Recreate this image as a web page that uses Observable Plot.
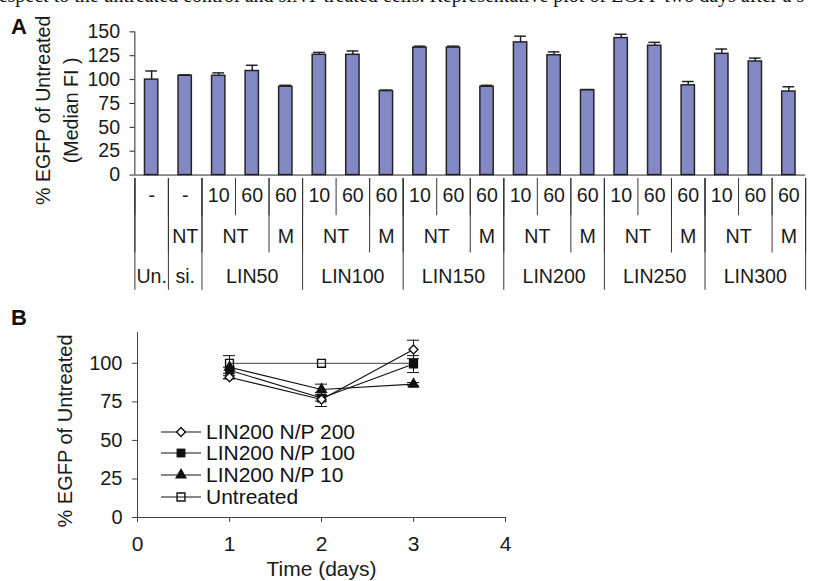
<!DOCTYPE html>
<html><head><meta charset="utf-8">
<script src="https://cdn.jsdelivr.net/npm/d3@7"></script>
<script src="https://cdn.jsdelivr.net/npm/@observablehq/plot@0.6"></script>
<style>
html,body{margin:0;padding:0;background:#fff;}
#wrap{position:relative;width:814px;height:581px;overflow:hidden;font-family:"Liberation Sans",Arial,sans-serif;color:#111;}
.letter{font-weight:bold;font-size:22px;line-height:1;}
.cut{font-family:"Liberation Serif","Times New Roman",serif;font-size:20px;white-space:nowrap;line-height:1;}
.leg{position:absolute;left:160px;height:22px;display:flex;align-items:center;font-size:21px;white-space:nowrap;}
.leg svg{margin-right:4px;}
svg text{font-family:"Liberation Sans",Arial,sans-serif;}
</style></head>
<body><div id="wrap"></div>
<script>
// ---------- Panel A data ----------
const row1Labels = ["-","-","10","60","60","10","60","60","10","60","60","10","60","60","10","60","60","10","60","60"];
const row2Labels = ["", "NT", "NT", "M", "NT", "M", "NT", "M", "NT", "M", "NT", "M", "NT", "M"];
const row2Spans  = [1, 1, 2, 1, 2, 1, 2, 1, 2, 1, 2, 1, 2, 1];
const groupLabels = ["Un.", "si.", "LIN50", "LIN100", "LIN150", "LIN200", "LIN250", "LIN300"];
const groupSpans  = [1, 1, 3, 3, 3, 3, 3, 3];
const medianFI = [100, 104, 104, 109, 92.5, 126, 126, 88, 133.5, 133.5, 92.5, 139, 125.5, 89, 143.5, 135.5, 94, 127, 119, 87.5];
const medianSD = [9, 1, 3, 6, 1.5, 2.5, 4, 1, 1.5, 1.5, 1.5, 6.5, 3.5, 0.5, 4, 3.5, 4, 5, 3.5, 5];
const yTicksA = [0, 25, 50, 75, 100, 125, 150];

// ---------- Panel B data ----------
const days = [1, 2, 3];
const seriesNames = ["LIN200 N/P 200", "LIN200 N/P 100", "LIN200 N/P 10", "Untreated"];
const np200 = [91, 76.5, 109];
const np200SD = [1, 4.5, 6];
const np100 = [95.5, 77.5, 99.5];
const np100SD = [2, 2, 5.5];
const np10 = [97.5, 83, 86.5];
const np10SD = [7.5, 3.5, 1];
const untreated = [100, 100, 100];
const untreatedSD = [0, 0, 0];
const yTicksB = [0, 25, 50, 75, 100];
const xTicksB = [0, 1, 2, 3, 4];

const wrap = document.getElementById("wrap");
function place(el, left, top) { el.style.position = "absolute"; el.style.left = left + "px"; el.style.top = top + "px"; wrap.appendChild(el); return el; }

// clipped text line from the page above (cut by the image edge, as in the reference)
const cut = document.createElement("div");
cut.className = "cut";
cut.textContent = "respect to the untreated control and siNT-treated cells. Representative plot of EGFP two days after a s";
place(cut, -8, -15);

// ---------- Panel A ----------
const cells = medianFI.map((v, i) => ({i, value: v, top: v + medianSD[i], label: row1Labels[i]}));
function spansToCells(labels, spans) {
  let s = 0;
  return labels.map((l, k) => { const c = {label: l, start: s, end: s + spans[k]}; s += spans[k]; return c; });
}
const row2Cells = spansToCells(row2Labels, row2Spans);
const groupCells = spansToCells(groupLabels, groupSpans);
const colBounds = d3.range(0, row1Labels.length + 1);
const row2Bounds = [0, ...row2Cells.map(d => d.end)];
const groupBounds = [0, ...groupCells.map(d => d.end)];

const W = 830, ML = 137, MR = 9;
const barsPlot = Plot.plot({
  width: W, height: 181, marginLeft: ML, marginRight: MR, marginTop: 32, marginBottom: 3,
  style: {fontSize: "20px", color: "#1a1a1a", background: "transparent", overflow: "visible"},
  x: {domain: [0, row1Labels.length], axis: null},
  y: {domain: [0, 150], axis: null},
  marks: [
    Plot.axisY(yTicksA, {tickSize: 5, tickPadding: 10, label: null, stroke: "#222"}),
    Plot.ruleX([0], {y1: 0, y2: 150, stroke: "#222"}),
    Plot.rect(cells, {x1: "i", x2: d => d.i + 1, y1: 0, y2: "value", insetLeft: 10.3, insetRight: 10.3, fill: "#8389c4", stroke: "#222", strokeWidth: 1.5}),
    Plot.ruleX(cells, {x: d => d.i + 0.5, y1: "value", y2: "top", stroke: "#222", strokeWidth: 1.5}),
    Plot.ruleY(cells, {x1: d => d.i + 0.5, x2: d => d.i + 0.5, y: "top", insetLeft: -6, insetRight: -6, stroke: "#222", strokeWidth: 1.5}),
    Plot.ruleY([0], {stroke: "#222"}),
    Plot.text(["% EGFP of Untreated\n(Median FI )"], {frameAnchor: "left", rotate: -90, textAnchor: "middle", lineAnchor: "middle", lineHeight: 1.4, dx: -81, dy: 7, fill: "#1a1a1a"})
  ]
});
place(barsPlot, 0, 0);

const tablePlot = Plot.plot({
  width: W, height: 116, marginLeft: ML, marginRight: MR, marginTop: 0, marginBottom: 2,
  style: {fontSize: "20px", color: "#1a1a1a", background: "transparent", overflow: "visible"},
  x: {domain: [0, row1Labels.length], axis: null},
  y: {domain: [0, 3], reverse: true, axis: null},
  marks: [
    Plot.ruleX(colBounds, {x: d => d, y1: 0, y2: 1, stroke: "#333"}),
    Plot.ruleX(row2Bounds, {x: d => d, y1: 0, y2: 2, stroke: "#333"}),
    Plot.ruleX(groupBounds, {x: d => d, y1: 0, y2: 3, stroke: "#333"}),
    Plot.text(cells, {x: d => d.i + 0.5, y: 0.45, text: "label", fill: "#1a1a1a"}),
    Plot.text(row2Cells, {x: d => (d.start + d.end) / 2, y: 1.57, text: "label", fill: "#1a1a1a"}),
    Plot.text(groupCells, {x: d => (d.start + d.end) / 2, y: 2.64, text: "label", fill: "#1a1a1a"})
  ]
});
place(tablePlot, 0, 178);

const A = document.createElement("div"); A.className = "letter"; A.textContent = "A"; place(A, 11, 16);

// ---------- Panel B ----------
const series = [
  {name: seriesNames[0], values: np200, sd: np200SD, symbol: "diamond2", fill: "white", r: 4, stroke: "#111"},
  {name: seriesNames[1], values: np100, sd: np100SD, symbol: "square", fill: "#111", r: 5, stroke: "#111"},
  {name: seriesNames[2], values: np10, sd: np10SD, symbol: "triangle", fill: "#111", r: 4.5, stroke: "#111"},
  {name: seriesNames[3], values: untreated, sd: untreatedSD, symbol: "square2", fill: "none", r: 5, stroke: "#666"}
];
const pts = series.flatMap(s => days.map((d, k) => ({series: s.name, day: d, value: s.values[k], sd: s.sd[k]})));
const errPts = pts.filter(d => d.sd > 0);

const lineMarks = series.slice().reverse().map(s =>
  Plot.line(pts.filter(p => p.series === s.name), {x: "day", y: "value", stroke: s.stroke, strokeWidth: 1.1}));
const dotMarks = series.slice().reverse().map(s =>
  Plot.dot(pts.filter(p => p.series === s.name), {x: "day", y: "value", symbol: () => s.symbol, r: s.r, fill: s.fill, stroke: s.symbol === "square2" || s.symbol === "diamond2" ? "#111" : "none", strokeWidth: 1.4}));

const linePlot = Plot.plot({
  width: 520, height: 281, marginLeft: 137, marginRight: 15, marginTop: 32, marginBottom: 64,
  style: {fontSize: "20px", color: "#1a1a1a", background: "transparent", overflow: "visible"},
  x: {domain: [0, 4], axis: null},
  y: {domain: [0, 120], axis: null},
  symbol: {type: "identity"},
  marks: [
    Plot.axisY(yTicksB, {tickSize: 5, tickPadding: 10, label: null, stroke: "#444"}),
    Plot.axisX(xTicksB, {tickSize: 5, tickPadding: 14, label: null, fontSize: 21, stroke: "#444"}),
    Plot.ruleX([0], {y1: 0, y2: 120, stroke: "#444"}),
    Plot.ruleY([0], {x1: 0, x2: 4, stroke: "#444"}),
    ...lineMarks,
    Plot.ruleX(errPts, {x: "day", y1: d => d.value - d.sd, y2: d => d.value + d.sd, stroke: "#111"}),
    Plot.ruleY(errPts, {x1: "day", x2: "day", y: d => d.value + d.sd, insetLeft: -6, insetRight: -6, stroke: "#111"}),
    Plot.ruleY(errPts, {x1: "day", x2: "day", y: d => d.value - d.sd, insetLeft: -6, insetRight: -6, stroke: "#111"}),
    ...dotMarks,
    Plot.text(["% EGFP of Untreated"], {frameAnchor: "left", rotate: -90, textAnchor: "middle", lineAnchor: "middle", dx: -72, dy: 6, fill: "#1a1a1a"}),
    Plot.text(["Time (days)"], {frameAnchor: "bottom", lineAnchor: "middle", textAnchor: "middle", dy: 52, fontSize: 21, fill: "#1a1a1a"})
  ]
});
place(linePlot, 0, 300);

const B = document.createElement("div"); B.className = "letter"; B.textContent = "B"; place(B, 11, 307);

// legend
const legendTops = [421, 442, 464, 486];
series.forEach((s, k) => {
  const row = document.createElement("div");
  row.className = "leg";
  row.style.top = legendTops[k] + "px";
  const sym = {diamond2: d3.symbolDiamond2, square: d3.symbolSquare, triangle: d3.symbolTriangle, square2: d3.symbolSquare2}[s.symbol];
  const path = d3.symbol(sym, Math.PI * s.r * s.r)();
  row.innerHTML = `<svg width="42" height="16" viewBox="-21 -8 42 16"><line x1="-20" x2="20" y1="0" y2="0" stroke="#111" stroke-width="1.1"/>` +
    `<path d="${path}" fill="${s.fill}" stroke="${s.fill === "#111" ? "none" : "#111"}" stroke-width="1.4"/></svg><span>${s.name}</span>`;
  wrap.appendChild(row);
});
</script>
</body></html>
